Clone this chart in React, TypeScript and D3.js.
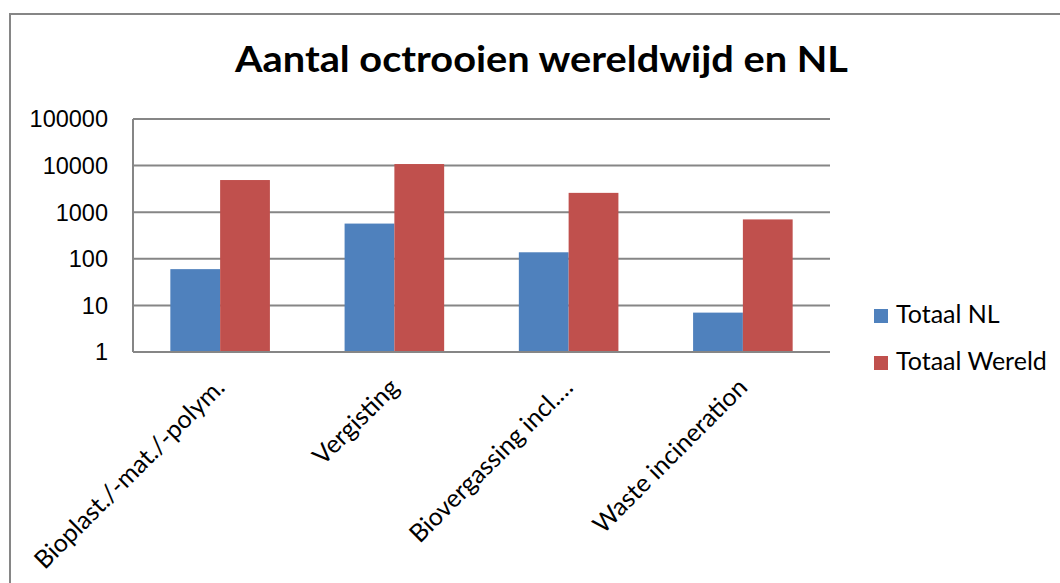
import React from "react";
import * as d3 from "d3";

const categories = ["Bioplast./-mat./-polym.", "Vergisting", "Biovergassing incl.…", "Waste incineration"];
const seriesNames = ["Totaal NL", "Totaal Wereld"];
const totaalNL = [60, 570, 138, 7];
const totaalWereld = [4900, 10800, 2600, 700];
const tickValues = [1, 10, 100, 1000, 10000, 100000];
const colors = ["#4F81BD", "#C0504D"];

const W = 1060;
const H = 583;
const plot = { left: 133, right: 830, top: 119, bottom: 352 };

export default function App() {
  const x0 = d3
    .scaleBand<string>()
    .domain(categories)
    .range([plot.left, plot.right])
    .paddingInner(0)
    .paddingOuter(0);
  const groupW = x0.bandwidth();
  const barW = groupW / 3.5;
  const x1 = d3
    .scaleBand<string>()
    .domain(seriesNames)
    .range([0, barW * 2]);
  const y = d3.scaleLog().domain([1, 100000]).range([plot.bottom, plot.top]);
  const series = [totaalNL, totaalWereld];
  const gray = "#868686";
  const calibri = "Lato, 'Open Sans', sans-serif";

  return (
    <svg
      width={W}
      height={H}
      style={{ position: "absolute", left: 0, top: 0, background: "#fff" }}
    >
      <rect x={0} y={0} width={W} height={H} fill="#fff" />
      <rect x={10} y={14} width={1200} height={800} fill="none" stroke={gray} strokeWidth={2} />
      <text
        x={541.5}
        y={72}
        textAnchor="middle"
        fontFamily={calibri}
        fontWeight={700}
        fontSize={36}
        textLength={613}
        lengthAdjust="spacingAndGlyphs"
        fill="#000"
      >
        Aantal octrooien wereldwijd en NL
      </text>
      {tickValues.map((t) => (
        <g key={t}>
          <line x1={plot.left} x2={plot.right} y1={y(t)} y2={y(t)} stroke={gray} strokeWidth={2} />
          <text
            x={108}
            y={y(t)}
            dy="0.36em"
            textAnchor="end"
            fontFamily="'Liberation Sans', Arial, sans-serif"
            fontSize={23.5}
            fill="#000"
          >
            {t}
          </text>
        </g>
      ))}
      <line x1={plot.left} x2={plot.left} y1={plot.top} y2={plot.bottom} stroke={gray} strokeWidth={2} />
      {categories.map((c, i) => (
        <g key={c}>
          {series.map((s, j) => {
            const bx = (x0(c) as number) + barW * 0.75 + (x1(seriesNames[j]) as number);
            const by = y(s[i]);
            return (
              <rect
                key={j}
                x={bx}
                y={by}
                width={x1.bandwidth()}
                height={plot.bottom - by}
                fill={colors[j]}
              />
            );
          })}
        </g>
      ))}
      <line x1={plot.left} x2={plot.right} y1={plot.bottom} y2={plot.bottom} stroke={gray} strokeWidth={2} />
      {categories.map((c) => {
        const cx = (x0(c) as number) + groupW / 2;
        const ax = cx + 6;
        const ay = 389;
        return (
          <text
            key={c}
            transform={`translate(${ax},${ay}) rotate(-45)`}
            textAnchor="end"
            fontFamily={calibri}
            fontSize={25}
            fill="#000"
          >
            {c}
          </text>
        );
      })}
      {seriesNames.map((n, j) => (
        <g key={n} transform={`translate(874,${309 + j * 47})`}>
          <rect x={0} y={0} width={14} height={14} fill={colors[j]} />
          <text x={22} y={14} fontFamily={calibri} fontSize={25} fill="#000">
            {n}
          </text>
        </g>
      ))}
    </svg>
  );
}
